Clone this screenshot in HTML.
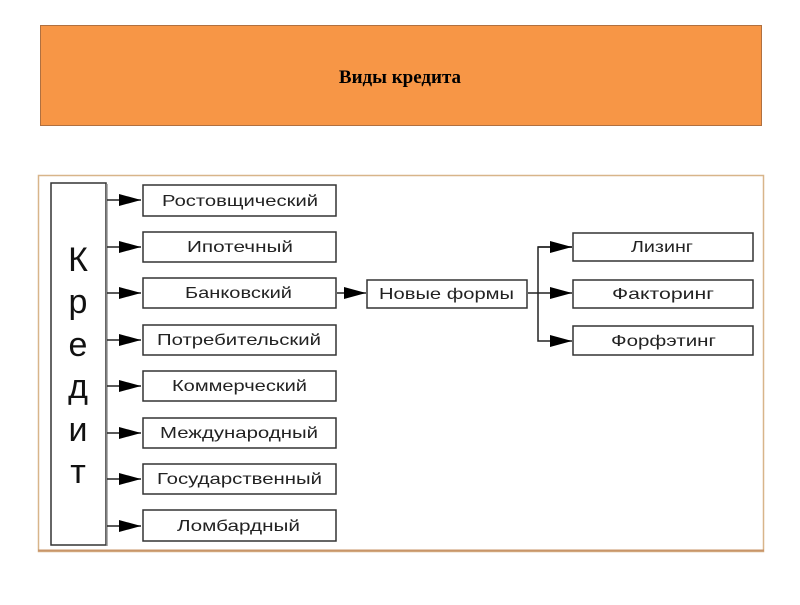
<!DOCTYPE html>
<html><head><meta charset="utf-8"><style>
body{margin:0;width:800px;height:600px;background:#fff;overflow:hidden}
</style></head><body>
<svg width="800" height="600" xmlns="http://www.w3.org/2000/svg" font-family="Liberation Sans, DejaVu Sans, sans-serif">
<defs><marker id="a" markerWidth="22" markerHeight="12" refX="22" refY="6" orient="auto" markerUnits="userSpaceOnUse"><path d="M0,0 L22,6 L0,12 Z" fill="#000"/></marker></defs>
<rect x="40.5" y="25.5" width="721" height="100" fill="#F79646" stroke="#b07040" stroke-width="1"/>
<text x="400" y="83" text-anchor="middle" font-family="Liberation Serif, serif" font-weight="bold" font-size="19">Виды кредита</text>
<rect x="38.5" y="175.5" width="725" height="376" fill="#fff" stroke="#d8b58a" stroke-width="1.5"/>
<line x1="38" y1="550.5" x2="764" y2="550.5" stroke="#c8956a" stroke-width="2"/>
<rect x="51" y="183" width="55" height="362" fill="#fff" stroke="#333" stroke-width="1.5"/>
<line x1="107" y1="184" x2="107" y2="546" stroke="#999" stroke-width="1.5"/>
<g font-size="34" text-anchor="middle" fill="#111">
<text x="78" y="271">К</text><text x="78" y="313">р</text><text x="78" y="356">е</text><text x="78" y="398">д</text><text x="78" y="441">и</text><text x="78" y="483">т</text>
</g>
<g stroke="#222" stroke-width="1.5" fill="none">
<line x1="107" y1="200" x2="141" y2="200" marker-end="url(#a)"/>
<line x1="107" y1="247" x2="141" y2="247" marker-end="url(#a)"/>
<line x1="107" y1="293" x2="141" y2="293" marker-end="url(#a)"/>
<line x1="107" y1="340" x2="141" y2="340" marker-end="url(#a)"/>
<line x1="107" y1="386" x2="141" y2="386" marker-end="url(#a)"/>
<line x1="107" y1="433" x2="141" y2="433" marker-end="url(#a)"/>
<line x1="107" y1="479" x2="141" y2="479" marker-end="url(#a)"/>
<line x1="107" y1="526" x2="141" y2="526" marker-end="url(#a)"/>
<line x1="337" y1="293" x2="366" y2="293" marker-end="url(#a)"/>
<line x1="528" y1="293" x2="572" y2="293" marker-end="url(#a)"/>
<polyline points="572,247 538,247 538,341 572,341" marker-end="url(#a)"/>
<line x1="538" y1="247" x2="572" y2="247" marker-end="url(#a)"/>
</g>
<g font-size="16" fill="#222" lengthAdjust="spacingAndGlyphs">
<g stroke-width="1.5">
<rect x="143" y="185" width="193" height="31" fill="#fff" stroke="#333"/>
<rect x="143" y="232" width="193" height="30" fill="#fff" stroke="#333"/>
<rect x="143" y="278" width="193" height="30" fill="#fff" stroke="#333"/>
<rect x="143" y="325" width="193" height="30" fill="#fff" stroke="#333"/>
<rect x="143" y="371" width="193" height="30" fill="#fff" stroke="#333"/>
<rect x="143" y="418" width="193" height="30" fill="#fff" stroke="#333"/>
<rect x="143" y="464" width="193" height="30" fill="#fff" stroke="#333"/>
<rect x="143" y="510" width="193" height="31" fill="#fff" stroke="#333"/>
<rect x="367" y="280" width="160" height="28" fill="#fff" stroke="#333"/>
<rect x="573" y="233" width="180" height="28" fill="#fff" stroke="#333"/>
<rect x="573" y="280" width="180" height="28" fill="#fff" stroke="#333"/>
<rect x="573" y="326" width="180" height="29" fill="#fff" stroke="#333"/>
</g>
<text x="162" y="206" textLength="156" lengthAdjust="spacingAndGlyphs">Ростовщический</text>
<text x="187" y="252" textLength="106" lengthAdjust="spacingAndGlyphs">Ипотечный</text>
<text x="185" y="298" textLength="107" lengthAdjust="spacingAndGlyphs">Банковский</text>
<text x="157" y="345" textLength="164" lengthAdjust="spacingAndGlyphs">Потребительский</text>
<text x="172" y="391" textLength="135" lengthAdjust="spacingAndGlyphs">Коммерческий</text>
<text x="160" y="438" textLength="158" lengthAdjust="spacingAndGlyphs">Международный</text>
<text x="157" y="484" textLength="165" lengthAdjust="spacingAndGlyphs">Государственный</text>
<text x="177" y="531" textLength="123" lengthAdjust="spacingAndGlyphs">Ломбардный</text>
<text x="379" y="299" textLength="135" lengthAdjust="spacingAndGlyphs">Новые формы</text>
<text x="631" y="252" textLength="62" lengthAdjust="spacingAndGlyphs">Лизинг</text>
<text x="612" y="299" textLength="102" lengthAdjust="spacingAndGlyphs">Факторинг</text>
<text x="611" y="346" textLength="105" lengthAdjust="spacingAndGlyphs">Форфэтинг</text>
</g>
</svg>
</body></html>
